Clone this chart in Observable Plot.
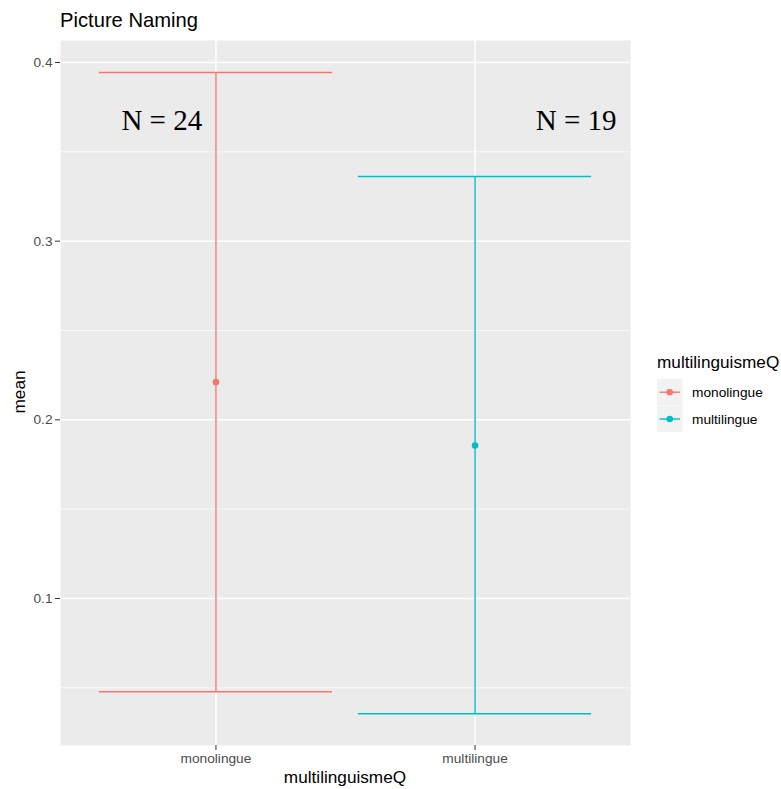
<!DOCTYPE html>
<html>
<head>
<meta charset="utf-8">
<script src="https://cdn.jsdelivr.net/npm/d3@7"></script>
<script src="https://cdn.jsdelivr.net/npm/@observablehq/plot@0.6"></script>
<style>
  body { margin: 0; background: #fff; }
  #chart { position: relative; width: 781px; height: 789px; }
</style>
</head>
<body>
<div id="chart"></div>
<script>
const groups = ["monolingue", "multilingue"];
const means = [0.2211, 0.1856];
const lower = [0.0478, 0.0355];
const upper = [0.3944, 0.3362];
const colors = ["#F8766D", "#00BFC4"];
const nLabels = ["N = 24", "N = 19"];
const nLabelX = [-0.209, 1.39];
const nLabelY = [0.3623, 0.3623];
const yMajor = [0.1, 0.2, 0.3, 0.4];
const yMinor = [0.05, 0.15, 0.25, 0.35];

const data = groups.map((g, i) => ({g, i, mean: means[i], lo: lower[i], hi: upper[i]}));
const labels = nLabels.map((t, i) => ({t, x: nLabelX[i], y: nLabelY[i]}));

const W = 781, H = 789, mL = 60, mR = 151, mT = 40, mB = 44;

const plot = Plot.plot({
  width: W, height: H,
  marginLeft: mL, marginRight: mR, marginTop: mT, marginBottom: mB,
  style: {fontFamily: "'Liberation Sans', Arial, sans-serif", background: "transparent"},
  x: {type: "linear", domain: [-0.6, 1.6]},
  y: {type: "linear", domain: [0.01773, 0.4123]},
  color: {domain: groups, range: colors},
  marks: [
    Plot.frame({fill: "#EBEBEB", stroke: null}),
    Plot.ruleY(yMinor, {stroke: "#fff", strokeWidth: 0.75}),
    Plot.ruleY(yMajor, {stroke: "#fff", strokeWidth: 1.5}),
    Plot.ruleX([0, 1], {stroke: "#fff", strokeWidth: 1.5}),
    Plot.axisY({ticks: yMajor, tickSize: 5, tickPadding: 3, stroke: "#333333", fill: "#4D4D4D",
      fontSize: 13.7, label: null, tickFormat: d3.format(".1f")}),
    Plot.axisX({ticks: [0, 1], tickSize: 5, tickPadding: 3, stroke: "#333333", fill: "#4D4D4D",
      fontSize: 13.7, label: null, tickFormat: i => groups[i]}),
    Plot.ruleX(data, {x: "i", y1: "lo", y2: "hi", stroke: "g", strokeWidth: 1.4}),
    Plot.ruleY(data, {y: "hi", x1: d => d.i - 0.45, x2: d => d.i + 0.45, stroke: "g", strokeWidth: 1.4}),
    Plot.ruleY(data, {y: "lo", x1: d => d.i - 0.45, x2: d => d.i + 0.45, stroke: "g", strokeWidth: 1.4}),
    Plot.dot(data, {x: "i", y: "mean", fill: "g", r: 3.3, stroke: null}),
    Plot.text(labels, {x: "x", y: "y", text: "t", textAnchor: "middle", lineAnchor: "bottom",
      fontFamily: "'Liberation Serif', 'Times New Roman', serif", fontSize: 29, fill: "#000"})
  ]
});
document.getElementById("chart").appendChild(plot);

// Titles and legend (pixel layout, content from the arrays above)
const svg = d3.select(plot);
const ff = "'Liberation Sans', Arial, sans-serif";
svg.append("text").attr("x", 60).attr("y", 27).attr("text-anchor", "start").attr("font-family", ff)
  .attr("font-size", 20.2).attr("fill", "#000").text("Picture Naming");
svg.append("text").attr("x", 345).attr("y", 783).attr("text-anchor", "middle").attr("font-family", ff)
  .attr("font-size", 17.2).attr("fill", "#000").text("multilinguismeQ");
svg.append("text").attr("transform", "translate(25,392) rotate(-90)").attr("text-anchor", "middle")
  .attr("font-family", ff).attr("font-size", 17.2).attr("fill", "#000").text("mean");

const lg = svg.append("g").attr("transform", "translate(657,0)").attr("text-anchor", "start");
lg.append("text").attr("x", 0).attr("y", 368).attr("text-anchor", "start").attr("font-family", ff)
  .attr("font-size", 17.2).attr("fill", "#000").text("multilinguismeQ");
groups.forEach((g, i) => {
  const y0 = 379 + i * 26.8;
  lg.append("rect").attr("x", 0).attr("y", y0).attr("width", 25.5).attr("height", 26.3).attr("fill", "#F2F2F2");
  lg.append("line").attr("x1", 2.5).attr("x2", 23).attr("y1", y0 + 13.2).attr("y2", y0 + 13.2)
    .attr("stroke", colors[i]).attr("stroke-width", 1.4);
  lg.append("circle").attr("cx", 12.75).attr("cy", y0 + 13.2).attr("r", 3.3).attr("fill", colors[i]);
  lg.append("text").attr("x", 35).attr("y", y0 + 13.2).attr("dy", "0.35em").attr("text-anchor", "start")
    .attr("font-family", ff).attr("font-size", 13.7).attr("fill", "#000").text(g);
});
</script>
</body>
</html>
